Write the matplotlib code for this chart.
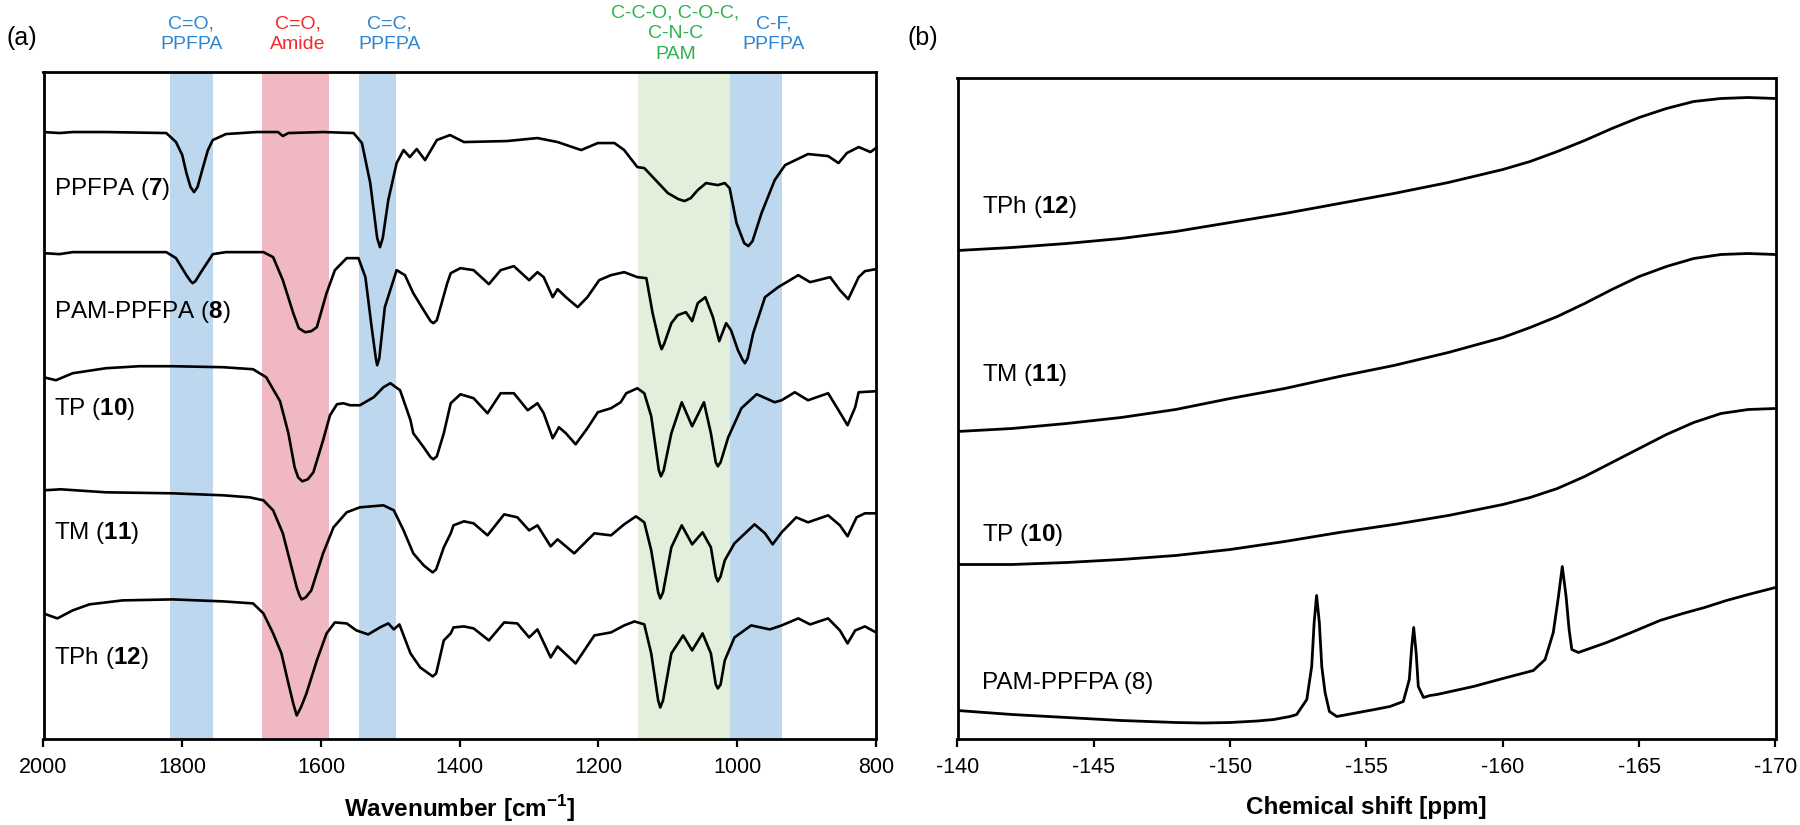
import matplotlib
matplotlib.use("Agg")
import matplotlib.pyplot as plt
import matplotlib.transforms as mtransforms

plt.rcParams['font.family'] = ['Liberation Sans', 'DejaVu Sans']
plt.rcParams['mathtext.fontset'] = 'custom'
plt.rcParams['mathtext.rm'] = 'Liberation Sans'
plt.rcParams['mathtext.bf'] = 'Liberation Sans:bold'
plt.rcParams['axes.unicode_minus'] = False

# ---------------- FTIR data (wavenumber cm-1, offset transmittance a.u.) ----------------
ppfpa_wn = [2000, 1977, 1958, 1910, 1823, 1809, 1800, 1794, 1788, 1783, 1778, 1770, 1763, 1756, 1737,
            1693, 1662, 1655, 1647, 1597, 1553, 1541, 1529, 1519, 1515, 1511, 1503, 1491, 1481, 1472,
            1462, 1450, 1433, 1414, 1394, 1332, 1288, 1259, 1225, 1201, 1177, 1163, 1144, 1134, 1100,
            1085, 1076, 1067, 1057, 1045, 1028, 1018, 1011, 1001, 990, 984, 978, 965, 946, 931,
            898, 869, 854, 842, 825, 808, 800]
ppfpa_t = [606, 605, 606, 606, 605, 596, 583, 565, 551, 546, 551, 571, 588, 598, 604,
           606, 606, 602, 605, 606, 605, 595, 555, 500, 491, 500, 538, 575, 588, 581,
           589, 578, 598, 603, 596, 597, 600, 596, 588, 595, 595, 588, 571, 570, 545,
           539, 537, 540, 548, 555, 553, 555, 550, 515, 495, 492, 497, 525, 558, 573,
           584, 582, 575, 585, 591, 586, 590]

pam_wn = [2000, 1977, 1958, 1823, 1809, 1794, 1788, 1785, 1781, 1773, 1756, 1737, 1683, 1669, 1655,
          1640, 1632, 1623, 1614, 1606, 1592, 1580, 1563, 1546, 1536, 1527, 1521, 1519, 1516, 1508,
          1491, 1479, 1467, 1452, 1442, 1438, 1433, 1418, 1413, 1399, 1380, 1358, 1341, 1322, 1300,
          1288, 1279, 1266, 1259, 1247, 1230, 1216, 1199, 1182, 1163, 1144, 1131, 1122, 1112, 1109,
          1105, 1095, 1086, 1074, 1065, 1057, 1046, 1035, 1026, 1016, 1009, 999, 992, 989, 985,
          977, 960, 941, 912, 895, 866, 852, 840, 825, 816, 800]
pam_t = [485, 484, 486, 486, 480, 463, 457, 455, 457, 466, 484, 486, 486, 481, 458,
         425, 410, 406, 407, 411, 445, 468, 480, 480, 461, 411, 380, 373, 380, 431,
         468, 463, 445, 428, 417, 415, 418, 455, 465, 470, 468, 454, 468, 472, 458,
         466, 461, 441, 449, 441, 431, 441, 458, 463, 466, 461, 460, 425, 395, 389,
         395, 415, 423, 426, 417, 435, 441, 421, 397, 415, 408, 388, 378, 375, 380,
         405, 441, 451, 463, 456, 461, 448, 439, 461, 467, 469]

tp_wn = [2000, 1982, 1958, 1910, 1862, 1814, 1741, 1698, 1679, 1659, 1647, 1638, 1633, 1627, 1619,
         1611, 1597, 1587, 1577, 1568, 1558, 1544, 1524, 1510, 1500, 1486, 1471, 1467, 1452, 1442,
         1438, 1433, 1423, 1413, 1399, 1380, 1360, 1341, 1322, 1302, 1288, 1279, 1266, 1257, 1247,
         1233, 1216, 1201, 1182, 1168, 1160, 1144, 1134, 1124, 1113, 1110, 1106, 1095, 1080, 1065,
         1048, 1038, 1031, 1028, 1024, 1013, 994, 972, 946, 936, 917, 898, 869, 854, 841,
         830, 825, 800]
tp_t = [361, 358, 365, 370, 372, 372, 371, 369, 361, 337, 305, 271, 261, 257, 259,
        266, 298, 323, 334, 335, 333, 333, 341, 351, 355, 348, 318, 305, 291, 281,
        279, 282, 305, 335, 344, 340, 325, 345, 345, 328, 335, 325, 300, 311, 305,
        294, 310, 326, 330, 336, 345, 350, 345, 322, 268, 262, 268, 305, 336, 312,
        336, 305, 276, 272, 276, 301, 330, 344, 336, 338, 346, 338, 345, 328, 313,
        331, 346, 347]

tm_wn = [2000, 1975, 1910, 1814, 1741, 1703, 1683, 1669, 1655, 1645, 1635, 1631, 1628, 1622, 1614,
         1597, 1582, 1563, 1544, 1510, 1495, 1481, 1467, 1452, 1443, 1439, 1434, 1423, 1413, 1409,
         1394, 1380, 1360, 1336, 1317, 1300, 1288, 1269, 1259, 1235, 1206, 1182, 1163, 1146, 1134,
         1124, 1114, 1111, 1107, 1095, 1080, 1065, 1050, 1038, 1031, 1028, 1024, 1018, 1004, 975,
         960, 949, 936, 915, 898, 869, 852, 841, 828, 816, 800]
tm_t = [248, 249, 246, 245, 243, 241, 238, 228, 205, 178, 151, 143, 139, 141, 148,
        185, 211, 226, 231, 233, 228, 208, 185, 173, 168, 166, 169, 191, 205, 213,
        217, 215, 203, 224, 221, 208, 213, 192, 199, 185, 205, 203, 214, 222, 216,
        188, 146, 140, 146, 191, 213, 194, 206, 191, 162, 157, 162, 178, 195, 214,
        205, 194, 206, 221, 216, 223, 213, 202, 221, 225, 225]

tph_wn = [2000, 1980, 1958, 1934, 1886, 1814, 1741, 1698, 1683, 1669, 1657, 1647, 1640, 1635, 1629,
          1621, 1606, 1592, 1580, 1563, 1549, 1532, 1515, 1503, 1495, 1487, 1471, 1457, 1443, 1439,
          1434, 1423, 1413, 1409, 1394, 1380, 1358, 1336, 1317, 1300, 1288, 1269, 1259, 1233, 1206,
          1182, 1163, 1148, 1134, 1124, 1114, 1111, 1107, 1095, 1078, 1065, 1050, 1038, 1031, 1028,
          1024, 1018, 1004, 980, 953, 936, 912, 895, 869, 852, 841, 830, 816, 800]
tph_t = [125, 120, 128, 134, 138, 139, 137, 135, 125, 105, 85, 55, 35, 23, 31,
         45, 78, 105, 116, 115, 108, 104, 111, 115, 109, 114, 85, 71, 64, 62,
         65, 98, 105, 111, 112, 110, 98, 116, 115, 101, 109, 81, 92, 75, 103,
         106, 113, 117, 114, 85, 38, 31, 38, 85, 103, 88, 105, 85, 54, 50,
         54, 78, 101, 113, 109, 113, 120, 114, 120, 108, 95, 108, 112, 106]

ir_names = ['PPFPA', 'PAM-PPFPA', 'TP', 'TM', 'TPh']
ir_numbers = ['7', '8', '10', '11', '12']
ir_label_y = [549, 426, 329, 205, 80]

# Highlighted bands (cm-1)
band_ranges = [(1818, 1755), (1685, 1589), (1545, 1492), (1143, 1010), (1010, 936)]
band_colors = ['#BDD7EE', '#F0B9C1', '#BDD7EE', '#E2EFDA', '#BDD7EE']
band_texts = ['C=O,\nPPFPA', 'C=O,\nAmide', 'C=C,\nPPFPA', 'C-C-O, C-O-C,\nC-N-C\nPAM', 'C-F,\nPPFPA']
band_text_x = [1787, 1633, 1501, 1089, 948]
band_text_colors = ['#2F86D0', '#F42A2A', '#2F86D0', '#2DB34E', '#2F86D0']

ir_ticks = [2000, 1800, 1600, 1400, 1200, 1000, 800]

# ---------------- 19F NMR data (ppm, offset intensity a.u.) ----------------
base_ppm = [-140, -142, -144, -146, -148, -150, -152, -154, -156, -158, -160, -161, -162, -163,
            -164, -165, -166, -167, -168, -169, -170]
tph_nmr = [488, 491, 495, 500, 507, 516, 525, 535, 545, 556, 569, 577, 587, 598,
           610, 621, 630, 637, 640, 641, 640]
tm_nmr = [307, 310, 315, 321, 329, 340, 350, 362, 373, 386, 401, 411, 422, 435,
          449, 462, 472, 480, 484, 485, 484]
tp_nmr = [174, 174, 176, 179, 183, 189, 197, 206, 214, 223, 234, 241, 250, 262,
          276, 290, 304, 316, 325, 329, 330]

pam_ppm = [-140, -142, -144, -146, -148, -149, -150, -151, -151.6, -152.2, -152.44, -152.81, -152.99,
           -153.08, -153.17, -153.27, -153.36, -153.48, -153.64, -153.91, -154.5, -155.2, -155.86,
           -156.35, -156.57, -156.66, -156.73, -156.82, -156.9, -157.09, -157.33, -157.58, -158.92,
           -160, -161.12, -161.55, -161.85, -162.04, -162.18, -162.32, -162.43, -162.53, -162.77,
           -163.81, -164.8, -165.76, -166.6, -167.4, -168.2, -169, -170]
pam_nmr = [28, 24, 21, 18, 16, 15.5, 16, 17.5, 19, 22, 24, 39, 72,
           116, 143, 116, 72, 46, 27, 22, 25, 28.5, 32,
           37, 59, 92, 111, 86, 52, 41, 43, 44, 52,
           60, 68, 79, 106, 142, 172, 142, 109, 89, 86,
           96, 107, 118, 125, 131, 138, 144, 151]

nmr_labels = ['TPh ($\\mathbf{12}$)', 'TM ($\\mathbf{11}$)', 'TP ($\\mathbf{10}$)', 'PAM-PPFPA (8)']
nmr_label_y = [532, 364, 203, 56]
nmr_ticks = [-140, -145, -150, -155, -160, -165, -170]

# ---------------- Figure ----------------
W, H = 1800, 825
fig = plt.figure(figsize=(18, 8.25), dpi=100)


def fx(px):
    return px / W


def fy(py):
    return 1 - py / H


axL = fig.add_axes([fx(43.5), fy(738.5), fx(876 - 43.5), (738.5 - 72) / H])
axR = fig.add_axes([fx(957.5), fy(738.5), fx(1775.5 - 957.5), (738.5 - 78) / H])

for ax in (axL, axR):
    for s in ax.spines.values():
        s.set_linewidth(2.0)
        s.set_color('black')
    ax.set_yticks([])
    ax.tick_params(axis='x', direction='out', length=6, width=1.6, labelsize=15.5, pad=7, colors='black')

# Left panel: FTIR
for (a, b), c in zip(band_ranges, band_colors):
    axL.axvspan(a, b, color=c, lw=0, zorder=0)

curves = [(ppfpa_wn, ppfpa_t), (pam_wn, pam_t), (tp_wn, tp_t), (tm_wn, tm_t), (tph_wn, tph_t)]
for (x, y) in curves:
    axL.plot(x, y, color='black', lw=1.9, zorder=3, solid_joinstyle='round')

for name, num, yv in zip(ir_names, ir_numbers, ir_label_y):
    axL.text(1985, yv, name + ' ($\\mathbf{' + num + '}$)', fontsize=17.5, va='center', ha='left', zorder=4)

axL.set_xlim(2000, 800)
axL.set_ylim(0, 666)
axL.set_xticks(ir_ticks)
axL.set_xticklabels([str(t) for t in ir_ticks])
axL.set_xlabel('Wavenumber [cm$^{\\mathbf{-1}}$]', fontsize=17.5, fontweight='bold', labelpad=11)

blend = mtransforms.blended_transform_factory(axL.transData, fig.transFigure)
for txt, xv, col in zip(band_texts, band_text_x, band_text_colors):
    axL.text(xv, fy(34), txt, transform=blend, fontsize=14, color=col, ha='center', va='center',
             linespacing=1.3, multialignment='center', clip_on=False)

fig.text(fx(22), fy(38), '(a)', fontsize=18, ha='center', va='center')
fig.text(fx(923), fy(38), '(b)', fontsize=18, ha='center', va='center')

# Right panel: 19F NMR
for (x, y) in [(base_ppm, tph_nmr), (base_ppm, tm_nmr), (base_ppm, tp_nmr), (pam_ppm, pam_nmr)]:
    axR.plot(x, y, color='black', lw=2.0, zorder=3, solid_joinstyle='round')

for lab, yv in zip(nmr_labels, nmr_label_y):
    axR.text(-140.9, yv, lab, fontsize=17.5, va='center', ha='left')

axR.set_xlim(-140, -170)
axR.set_ylim(0, 660.5)
axR.set_xticks(nmr_ticks)
axR.set_xticklabels([str(t) for t in nmr_ticks])
axR.set_xlabel('Chemical shift [ppm]', fontsize=17.5, fontweight='bold', labelpad=13)

fig.savefig('out.png', dpi=100)
